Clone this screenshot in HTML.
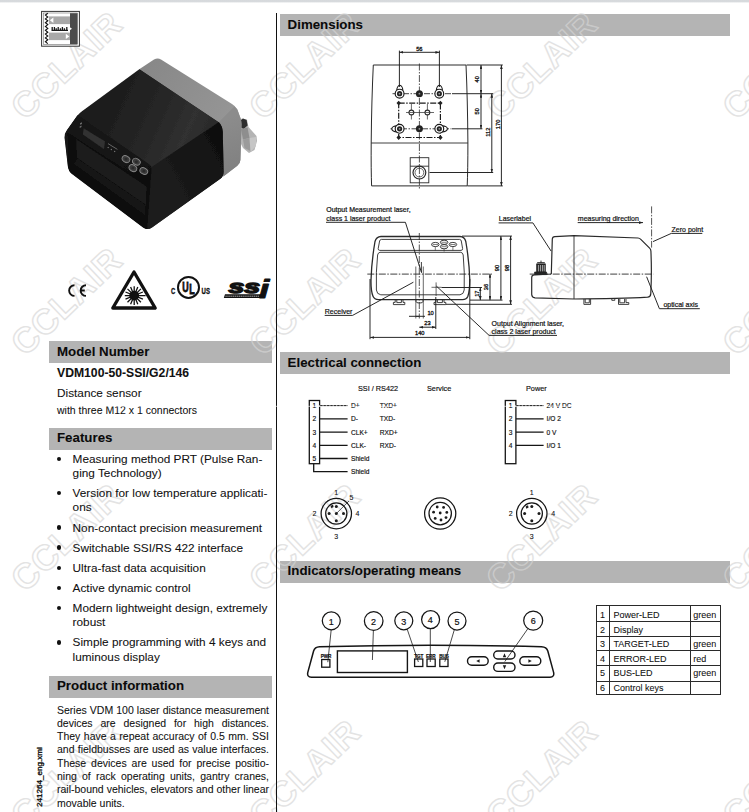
<!DOCTYPE html>
<html lang="en">
<head>
<meta charset="utf-8">
<title>VDM100-50-SSI/G2/146 Distance sensor</title>
<style>
html,body{margin:0;padding:0;background:#fff;}
body{-webkit-text-stroke:0.07px #111;width:749px;height:812px;overflow:hidden;position:relative;font-family:"Liberation Sans",sans-serif;color:#111;}
#page{position:absolute;left:0;top:0;width:749px;height:812px;overflow:hidden;background:#fff;}
.topbar{position:absolute;left:0;top:0;width:749px;height:3.4px;background:linear-gradient(#d6d9dc 0,#d7dadd 58%,#fff 100%);}
.vline{position:absolute;left:275.9px;top:13px;width:1.4px;height:800px;background:#111;}
h2{position:absolute;margin:0;padding:0 0 0 7.6px;box-sizing:border-box;height:21.7px;line-height:20.4px;font-size:13.3px;font-weight:bold;background:#b4b4b4;color:#0a0a0a;white-space:nowrap;}
.l{left:49px;width:223px;padding-left:8px;}
h2.lo{line-height:22.4px;}
.r{left:280px;width:450px;}
p,ul,li{margin:0;padding:0;}
.abs{position:absolute;white-space:nowrap;}
.model{left:57px;top:365.6px;font-size:12.2px;font-weight:bold;line-height:14px;}
.d1{left:57px;top:385.8px;font-size:11.8px;line-height:14px;}
.d2{left:57px;top:403.7px;font-size:10.5px;line-height:13px;}
ul.feat{position:absolute;left:72.6px;top:451.9px;width:200px;list-style:none;font-size:11.8px;line-height:14.15px;}
ul.feat li{position:relative;margin-bottom:6px;white-space:nowrap;}
ul.feat li::before{content:"";position:absolute;left:-15.5px;top:4.7px;width:4.4px;height:4.4px;border-radius:50%;background:#111;}
.info{position:absolute;left:57px;top:703.5px;width:212px;font-size:10.5px;line-height:13.3px;text-align:justify;}
.info span{display:block;text-align:justify;text-align-last:justify;white-space:nowrap;}
.info span.last{text-align-last:left;}
.side{position:absolute;left:35.2px;top:806.5px;font-size:8.1px;-webkit-text-stroke:0.35px #111;transform-origin:0 0;transform:rotate(-90deg);white-space:nowrap;line-height:10px;}
table.leg{position:absolute;left:595.7px;top:605.2px;border-collapse:collapse;font-size:9px;table-layout:fixed;width:125.4px;border-spacing:0;}
table.leg td{border:1px solid #2a2a2a;padding:0 0 0 2.6px;line-height:10px;vertical-align:top;box-sizing:border-box;white-space:nowrap;overflow:hidden;}
table.leg td.n{width:13.3px;padding-left:3.4px;}table.leg td.t{width:80.7px;padding-left:3.5px;}table.leg td.c{width:30.4px;padding-left:2.5px;}
svg{position:absolute;left:0;top:0;z-index:2;}
#dim text,#elec text,#ind text{stroke:#111;stroke-width:0.2px;-webkit-text-stroke:0;}
#elec text{stroke-width:0.1px;}
#elec .b text{stroke-width:0.16px;}
#elec text.h{stroke-width:0.16px;}
#dim text.n{font-size:5.7px;stroke-width:0.3px;}
svg#wm{z-index:0;}
svg#wm2{z-index:1;}
h2 span{position:relative;z-index:2;}
.abs,ul.feat,.info,.side,table.leg,.vline{z-index:2;}
</style>
</head>
<body>
<div id="page">
<div class="topbar"></div>
<svg id="wm" width="749" height="812" viewBox="0 0 749 812" font-family="'Liberation Sans',sans-serif" font-size="35" font-weight="bold" letter-spacing="0.9" fill="none" stroke="#e3e3e3" stroke-width="1.4" stroke-linejoin="round" text-anchor="middle">
<text transform="translate(65 66) rotate(-43.5)" x="1.8" y="12.5">CCLAIR</text>
<text transform="translate(303 66) rotate(-43.5)" x="1.8" y="12.5">CCLAIR</text>
<text transform="translate(540 66) rotate(-43.5)" x="1.8" y="12.5">CCLAIR</text>
<text transform="translate(776.5 66) rotate(-43.5)" x="1.8" y="12.5">CCLAIR</text>
<text transform="translate(65 302) rotate(-43.5)" x="1.8" y="12.5">CCLAIR</text>
<text transform="translate(303 302) rotate(-43.5)" x="1.8" y="12.5">CCLAIR</text>
<text transform="translate(540 302) rotate(-43.5)" x="1.8" y="12.5">CCLAIR</text>
<text transform="translate(776.5 302) rotate(-43.5)" x="1.8" y="12.5">CCLAIR</text>
<text transform="translate(65 538) rotate(-43.5)" x="1.8" y="12.5">CCLAIR</text>
<text transform="translate(303 538) rotate(-43.5)" x="1.8" y="12.5">CCLAIR</text>
<text transform="translate(540 538) rotate(-43.5)" x="1.8" y="12.5">CCLAIR</text>
<text transform="translate(776.5 538) rotate(-43.5)" x="1.8" y="12.5">CCLAIR</text>
<text transform="translate(65 774) rotate(-43.5)" x="1.8" y="12.5">CCLAIR</text>
<text transform="translate(303 774) rotate(-43.5)" x="1.8" y="12.5">CCLAIR</text>
<text transform="translate(540 774) rotate(-43.5)" x="1.8" y="12.5">CCLAIR</text>
<text transform="translate(776.5 774) rotate(-43.5)" x="1.8" y="12.5">CCLAIR</text>
</svg>
<svg id="wm2" width="749" height="812" viewBox="0 0 749 812" font-family="'Liberation Sans',sans-serif" font-size="35" font-weight="bold" letter-spacing="0.9" fill="none" stroke="#ffffff" stroke-opacity="0.3" stroke-width="1.4" stroke-linejoin="round" text-anchor="middle">
<defs><clipPath id="bars"><rect x="49" y="341" width="223" height="21.7"/><rect x="49" y="428" width="223" height="21.7"/><rect x="49" y="676" width="223" height="21.7"/><rect x="280" y="14" width="450" height="21.7"/><rect x="280" y="352" width="450" height="21.7"/><rect x="280" y="561" width="450" height="21.7"/></clipPath></defs>
<g clip-path="url(#bars)">
<text transform="translate(303 66) rotate(-43.5)" x="1.8" y="12.5">CCLAIR</text>
<text transform="translate(540 66) rotate(-43.5)" x="1.8" y="12.5">CCLAIR</text>
<text transform="translate(303 302) rotate(-43.5)" x="1.8" y="12.5">CCLAIR</text>
<text transform="translate(540 302) rotate(-43.5)" x="1.8" y="12.5">CCLAIR</text>
<text transform="translate(776.5 302) rotate(-43.5)" x="1.8" y="12.5">CCLAIR</text>
<text transform="translate(303 538) rotate(-43.5)" x="1.8" y="12.5">CCLAIR</text>
<text transform="translate(540 538) rotate(-43.5)" x="1.8" y="12.5">CCLAIR</text>
<text transform="translate(776.5 538) rotate(-43.5)" x="1.8" y="12.5">CCLAIR</text>
</g>
</svg>
<div class="vline"></div>

<h2 class="l lo" style="top:341px"><span>Model Number</span></h2>
<p class="abs model">VDM100-50-SSI/G2/146</p>
<p class="abs d1">Distance sensor</p>
<p class="abs d2">with three M12 x 1 connectors</p>

<h2 class="l" style="top:428px"><span>Features</span></h2>
<ul class="feat">
<li>Measuring method PRT (Pulse Ran-<br>ging Technology)</li>
<li>Version for low temperature applicati-<br>ons</li>
<li>Non-contact precision measurement</li>
<li>Switchable SSI/RS 422 interface</li>
<li>Ultra-fast data acquisition</li>
<li>Active dynamic control</li>
<li>Modern lightweight design, extremely<br>robust</li>
<li>Simple programming with 4 keys and<br>luminous display</li>
</ul>

<h2 class="l" style="top:676px"><span>Product information</span></h2>
<p class="info"><span>Series VDM 100 laser distance measurement</span><span>devices are designed for high distances.</span><span>They have a repeat accuracy of 0.5 mm. SSI</span><span>and fieldbusses are used as value interfaces.</span><span>These devices are used for precise positio-</span><span>ning of rack operating units, gantry cranes,</span><span>rail-bound vehicles, elevators and other linear</span><span class="last">movable units.</span></p>
<div class="side">241264_eng.xml</div>

<h2 class="r lo" style="top:14px"><span>Dimensions</span></h2>
<h2 class="r lo" style="top:352px"><span>Electrical connection</span></h2>
<h2 class="r" style="top:561px"><span>Indicators/operating means</span></h2>

<svg id="photo" width="749" height="812" viewBox="0 0 749 812" aria-label="VDM100 sensor photo">
<defs>
<filter id="soft" x="-5%" y="-5%" width="110%" height="110%"><feGaussianBlur stdDeviation="0.75"/></filter>
<linearGradient id="gtop" gradientUnits="userSpaceOnUse" x1="95" y1="100" x2="205" y2="150"><stop offset="0" stop-color="#1a1a1a"/><stop offset="0.5" stop-color="#262626"/><stop offset="0.8" stop-color="#303030"/><stop offset="1" stop-color="#2a2a2a"/></linearGradient>
<linearGradient id="gside" gradientUnits="userSpaceOnUse" x1="150" y1="190" x2="224" y2="150"><stop offset="0" stop-color="#1f1f1f"/><stop offset="1" stop-color="#101010"/></linearGradient>
<linearGradient id="gfront" gradientUnits="userSpaceOnUse" x1="100" y1="125" x2="100" y2="220"><stop offset="0" stop-color="#171717"/><stop offset="1" stop-color="#0b0b0b"/></linearGradient>
<linearGradient id="ggray" gradientUnits="userSpaceOnUse" x1="150" y1="60" x2="235" y2="120"><stop offset="0" stop-color="#888"/><stop offset="1" stop-color="#969696"/></linearGradient>
<linearGradient id="ggray2" gradientUnits="userSpaceOnUse" x1="222" y1="120" x2="242" y2="170"><stop offset="0" stop-color="#8c8c8c"/><stop offset="1" stop-color="#808080"/></linearGradient>
<clipPath id="bodyclip"><path d="M139.6 69.1 L218.9 122 Q222.5 126 222.8 132 L223.6 172 Q223.6 176.5 220 179 L152 227.5 Q147.5 230.5 143 227.5 L72 174 Q68.3 171 67.8 166 L64.6 138 Q64.2 133.5 67 130 L77 116 Q79 113.3 82 111.2 Z"/></clipPath>
</defs>
<g filter="url(#soft)">
<!-- connector -->
<path d="M238 121 L242 118.4 L247 119.5 L248.5 127 L256.5 136 L257 141 L254.5 150 L249 153 L243 148 L239 140 Z" fill="#b4b4b4"/>
<path d="M239.4 121.4 L243 118.6 L246.6 120 L247.6 125.6 L243.6 129 L240 127 Z" fill="#2e2e2e"/>
<path d="M241 129 L247.5 127.5 L249.5 138 L243 139.5 Z" fill="#8e8e8e"/>
<path d="M249.5 138 L256 137 L256 146 L251 151.5 L246 146 Z" fill="#c6c6c6"/>
<path d="M243 139.5 L249.5 138 L250.4 151 L244.5 148 Z" fill="#9b9b9b"/>
<!-- gray rear part -->
<path d="M139.6 69.1 L154 59.6 Q157.5 57.6 161 59.4 L232 104 Q235.4 106 237.4 109.6 L240.6 118.5 Q241.5 121.5 241.5 124 L240.4 160 Q240.2 163.5 237.3 165.8 L223.3 176.6 L218.9 122 Z" fill="url(#ggray)"/>
<path d="M218.9 122 L234.4 106.6 Q236.8 108.4 237.8 111 L240.6 118.5 Q241.5 121.5 241.5 124 L240.4 160 Q240.2 163.5 237.3 165.8 L223.3 176.6 Z" fill="url(#ggray2)"/>
<!-- dark body -->
<path d="M139.6 69.1 L218.9 122 Q222.5 126 222.8 132 L223.6 172 Q223.6 176.5 220 179 L152 227.5 Q147.5 230.5 143 227.5 L72 174 Q68.3 171 67.8 166 L64.6 138 Q64.2 133.5 67 130 L77 116 Q79 113.3 82 111.2 Z" fill="url(#gtop)"/>
<g clip-path="url(#bodyclip)">
<!-- right side face -->
<path d="M151.5 167 L218.9 122 Q223 126 223.3 132 L224.6 172 Q224.6 177 221 180 L152 229 Q149 230.6 146 229.5 Z" fill="url(#gside)"/>
<!-- front face -->
<path d="M77.4 114.7 L149.5 164.6 Q152 166.4 151.7 169.5 L147.2 230 L143 227.5 L72 174 Q68.3 171 67.8 166 L64.6 138 Q64.2 133.5 67 130 Z" fill="url(#gfront)"/>
<!-- recessed window -->
<path d="M67.6 132.6 L147.8 185 L146.2 225.6 L69 170.5 Z" fill="#0a0a0a"/>
<path d="M76 139 L146.6 186.5 L146 205 L77 158 Z" fill="#1c1c1c"/>
<path d="M77 158 L146 205 L145.6 216 L73.6 164 Z" fill="#131313"/>
</g>
<!-- display -->
<path d="M83.6 128.2 L105 141.2 L104 149.2 L82.8 134.6 Z" fill="#303030"/>
<!-- tiny marks -->
<g fill="#6f6f6f"><path d="M80 123.2 l1.8 -0.9 l0.2 1.6 l-1.8 0.8 Z M79.6 126.4 l1.8 -0.9 l0.2 1.6 l-1.8 0.8 Z"/><circle cx="108.2" cy="147.6" r="0.75"/><circle cx="111.4" cy="149.6" r="0.75"/><circle cx="114.6" cy="151.6" r="0.75"/><path d="M108 143.6 L117.4 149.4" stroke="#666" stroke-width="1" fill="none"/></g>
<!-- keys -->
<g fill="#3c3c3c" stroke="#8a8a8a" stroke-width="0.9">
<ellipse cx="126" cy="159.1" rx="4.1" ry="3.1" transform="rotate(30 126 159.1)"/>
<ellipse cx="136.4" cy="161.7" rx="4.1" ry="3.1" transform="rotate(30 136.4 161.7)"/>
<ellipse cx="132.9" cy="168.1" rx="4.1" ry="3.1" transform="rotate(30 132.9 168.1)"/>
<ellipse cx="143.8" cy="171" rx="4.1" ry="3.1" transform="rotate(30 143.8 171)"/>
</g>
<g fill="#2c2c2c"><circle cx="126" cy="159.1" r="1.5"/><circle cx="136.4" cy="161.7" r="1.5"/><circle cx="132.9" cy="168.1" r="1.5"/><circle cx="143.8" cy="171" r="1.5"/></g>
</g>
</svg>
<svg id="icons" width="749" height="812" viewBox="0 0 749 812">
<!-- sensor principle symbol -->
<g>
<rect x="41.6" y="11.4" width="37.8" height="34.8" fill="#fff" stroke="#333" stroke-width="1"/>
<rect x="43.3" y="13" width="34.4" height="31.6" fill="none" stroke="#555" stroke-width="0.5"/>
<rect x="70" y="13.2" width="7.4" height="31" fill="#4b4b4b"/>
<rect x="49" y="16.4" width="21" height="7.7" fill="#a9a9a9"/>
<rect x="49" y="32.6" width="21" height="7.5" fill="#a9a9a9"/>
<path d="M53.4 17.6 L53.4 22.9 L49.9 20.2 Z" fill="#fff"/>
<path d="M65.8 33.8 L65.8 39 L69.3 36.4 Z" fill="#fff"/>
<path d="M69.5 27 L72 28.7 L69.5 30.4 Z" fill="#fff"/>
<path d="M47.8 13.2 l-2.4 1.9 l2.4 1.9 l-2.4 1.9 l2.4 1.9 l-2.4 1.9 l2.4 1.9 l-2.4 1.9 l2.4 1.9 l-2.4 1.9 l2.4 1.9 l-2.4 1.9 l2.4 1.9 l-2.4 1.9 l2.4 1.9 l-2.4 1.9 l2.4 1.9" fill="none" stroke="#111" stroke-width="1.1"/>
<path d="M51.5 30.4 H68 M52.2 27 V30.4 M54.4 27 V30.4 M56.2 28.2 V30.4 M58.2 27 V30.4 M60.4 28.2 V30.4 M62.4 27 V30.4 M64.4 28.2 V30.4 M66.8 27 V30.4" stroke="#1a1a1a" stroke-width="1.3" fill="none"/>
</g>
<!-- CE -->
<g fill="none" stroke="#111" stroke-width="1.9">
<path d="M74.5 285.2 A5.35 5.35 0 1 0 74.5 295.9"/>
<path d="M86 285.2 A5.35 5.35 0 1 0 86 295.9 M80.4 290.55 H84.8"/>
</g>
<!-- laser warning -->
<g>
<path d="M134 272 L155.2 308 H112.8 Z" fill="#fff" stroke="#111" stroke-width="3.3" stroke-linejoin="round"/>
<circle cx="134.2" cy="295.6" r="4.9" fill="#111"/>
<path d="M134.2 286.2 V305 M124.8 295.6 H145.6 M127.5 288.9 L140.9 302.3 M140.9 288.9 L127.5 302.3 M130.6 286.9 L137.8 304.3 M137.8 286.9 L130.6 304.3 M125.5 292 L142.9 299.2 M142.9 292 L125.5 299.2" stroke="#111" stroke-width="1.3" fill="none"/>
</g>
<!-- UL listed -->
<g font-family="'Liberation Sans',sans-serif" font-weight="bold" fill="#111" stroke="#111">
<circle cx="188.5" cy="287.4" r="10.5" fill="#fff" stroke="#111" stroke-width="2"/>
<text transform="translate(182.2 291.5) scale(0.575 1)" font-size="15.5" stroke-width="0.9"><tspan x="0" y="0">U</tspan><tspan x="12.2" y="2.5">L</tspan></text>
<text x="171" y="293.9" font-size="8.6" stroke-width="0.3" textLength="4.3" lengthAdjust="spacingAndGlyphs">C</text>
<text x="201.6" y="293.9" font-size="8.6" stroke-width="0.3" textLength="8.4" lengthAdjust="spacingAndGlyphs">US</text>
</g>
<!-- SSI -->
<g font-family="'Liberation Sans',sans-serif" font-weight="bold" font-style="italic" fill="#111" stroke="#111">
<path d="M225 294.2 H262.5 L261.4 298.1 H223.8 Z" fill="#111" stroke="none"/>
<path d="M225.4 296.2 H259.6" stroke="#e8e8e8" stroke-width="0.7" stroke-dasharray="1.4 0.5" fill="none"/>
<text transform="translate(228.4 292.6) scale(1.615 1)" font-size="17.6" stroke-width="1.4" stroke-linejoin="round"><tspan x="0" y="0">ss</tspan><tspan x="18.9" y="5.2" font-size="26.6" stroke-width="0.9" textLength="6.4" lengthAdjust="spacingAndGlyphs">i</tspan></text>
</g>
</svg>
<svg id="dim" width="749" height="812" viewBox="0 0 749 812" font-family="'Liberation Sans',sans-serif" font-size="7" fill="#111">
<defs>
<marker id="ar" viewBox="0 0 6 4" refX="6" refY="2" markerWidth="4.2" markerHeight="2.8" orient="auto-start-reverse"><path d="M0 0 L6 2 L0 4 Z" fill="#222"/></marker>
</defs>
<!-- ===== top view ===== -->
<g fill="none" stroke="#2a2a2a" stroke-width="0.9">
<path d="M373.3 65 H466 Q467.6 100 467.9 143 Q467.9 170 467.2 185.9 H371.6 Q371 170 371.2 143 Q371.6 100 373.3 65 Z" stroke-width="1"/>
<path d="M371.2 143 H467.9"/>
<rect x="410.2" y="157.7" width="18.6" height="25.1"/>
<path d="M410.2 166.2 H428.8"/>
<circle cx="419.4" cy="172.6" r="6.4" stroke-width="1.2"/>
<circle cx="419.4" cy="172.6" r="4.4" stroke-width="0.7"/>
</g>
<g fill="none" stroke="#2a2a2a" stroke-width="0.8">
<path d="M419.4 63.5 V188.5" stroke-dasharray="7 1.5 1.5 1.5"/>
<path d="M392.5 93.7 H451.5 M390.5 128.8 H451.5" stroke-dasharray="6 1.5 1.5 1.5" stroke="#444" stroke-width="1"/>
<path d="M398.7 103.1 H440.4 V137.5 H398.7 Z" stroke-dasharray="6 1.5 1.5 1.5" stroke-width="1.2" stroke="#1a1a1a"/>
<path d="M406 112.5 H434 M411.4 104 V119.5 M427.4 104 V119.5" stroke-width="0.7"/>
<circle cx="411.4" cy="112.5" r="2.4" fill="#fff" stroke-width="1.1"/><circle cx="427.4" cy="112.5" r="2.4" fill="#fff" stroke-width="1.1"/>
<path d="M409.6 112.5 H413.2 M425.6 112.5 H429.2" stroke-width="0.7"/>
</g>
<g fill="#fff" stroke="#1a1a1a" stroke-width="1.15">
<ellipse cx="399.8" cy="90.6" rx="3" ry="5.2"/><ellipse cx="439.4" cy="90.6" rx="3" ry="5.2"/>
<ellipse cx="397" cy="128.8" rx="5.2" ry="3"/><ellipse cx="442.2" cy="128.8" rx="5.2" ry="3"/>
<circle cx="399.6" cy="93.7" r="4.4"/><circle cx="439.3" cy="93.7" r="4.4"/>
<circle cx="399.6" cy="128.8" r="4.4"/><circle cx="439.3" cy="128.8" r="4.4"/>
</g>
<g fill="#222" stroke="none">
<circle cx="399.6" cy="93.7" r="2.6"/><circle cx="439.3" cy="93.7" r="2.6"/>
<circle cx="399.6" cy="128.8" r="2.6"/><circle cx="439.3" cy="128.8" r="2.6"/>
<circle cx="419.4" cy="93.7" r="3.5"/><circle cx="419.4" cy="128.8" r="3.5"/>
<path d="M398.7 100.7 l2.2 2.4 l-2.2 2.4 l-2.2 -2.4 Z M440.4 100.7 l2.2 2.4 l-2.2 2.4 l-2.2 -2.4 Z M398.7 135.1 l2.2 2.4 l-2.2 2.4 l-2.2 -2.4 Z M440.4 135.1 l2.2 2.4 l-2.2 2.4 l-2.2 -2.4 Z"/>
</g>
<g fill="#999" stroke="none"><circle cx="399.6" cy="93.7" r="0.9"/><circle cx="439.3" cy="93.7" r="0.9"/><circle cx="399.6" cy="128.8" r="0.9"/><circle cx="439.3" cy="128.8" r="0.9"/><circle cx="419.4" cy="93.7" r="0.9"/><circle cx="419.4" cy="128.8" r="0.9"/></g>
<!-- top-view dimensions -->
<g fill="none" stroke="#1c1c1c" stroke-width="0.95">
<path d="M399.4 50.6 V87 M439.4 50.6 V87"/>
<path d="M399.4 52.3 H439.4" marker-start="url(#ar)" marker-end="url(#ar)"/>
<path d="M466.5 65 H502.8 M452 93.7 H493.2 M452 128.8 H482.4 M429.5 172.5 H493.2 M467.4 185.9 H502.8"/>
<path d="M481 65 V93.7" marker-start="url(#ar)" marker-end="url(#ar)"/>
<path d="M481 93.7 V128.8" marker-start="url(#ar)" marker-end="url(#ar)"/>
<path d="M491.8 93.7 V172.5" marker-start="url(#ar)" marker-end="url(#ar)"/>
<path d="M501.4 65 V185.9" marker-start="url(#ar)" marker-end="url(#ar)"/>
</g>
<text class="n" x="419.3" y="50.6" text-anchor="middle">56</text>
<text class="n" transform="translate(479.2 79.3) rotate(-90)" text-anchor="middle">40</text>
<text class="n" transform="translate(479.2 111.3) rotate(-90)" text-anchor="middle">50</text>
<text class="n" transform="translate(490 132.2) rotate(-90)" text-anchor="middle">112</text>
<text class="n" transform="translate(499.6 124.4) rotate(-90)" text-anchor="middle">170</text>

<!-- ===== front view ===== -->
<g fill="none" stroke="#2a2a2a" stroke-width="0.9">
<path d="M381 236.5 H460 Q464.6 236.6 465.8 241.5 Q469.3 262 469.8 280 Q469.7 291 467.9 296.3 Q466.6 299.6 462.5 299.6 H378.4 Q374.4 299.6 373 296.3 Q370.8 291 371 280 Q371.5 262 375 241.5 Q376.3 236.6 381 236.5 Z" stroke-width="1.3"/>
<path d="M381.4 239.4 H459.6 Q461 239.5 461.3 241 L462.6 248.6 Q462.8 250.3 461 250.4 H379.8 Q378 250.3 378.2 248.6 L379.6 241 Q380 239.5 381.4 239.4 Z"/>
<path d="M380 252.3 H460.8 Q462.8 252.6 463.2 255 Q464.8 272 464.2 290 Q463.8 294.3 460 294.8 H380.8 Q376.8 294.3 376.4 290 Q375.8 272 377.6 255 Q378 252.6 380 252.3 Z"/>
<ellipse cx="435.3" cy="244.5" rx="3.8" ry="2.1"/><ellipse cx="444.1" cy="242.3" rx="3.8" ry="2.1"/><ellipse cx="444.1" cy="246.7" rx="3.8" ry="2.1"/><ellipse cx="452.9" cy="244.5" rx="3.8" ry="2.1"/>
<path d="M432.6 244.5 H438 M441.4 242.3 H446.8 M441.4 246.7 H446.8 M450.2 244.5 H455.6 M435.3 246.6 V250.4 M444.1 248.8 V251.6 M452.9 246.6 V250.4" stroke-width="0.6"/>
<path d="M395.2 299.6 V302.4 H393.4 V304.6 H404.8 V302.4 H403 V299.6 M396.8 299.6 V302.6 H401.4 V299.6 M435.8 299.6 V302.4 H434 V304.6 H445.8 V302.4 H444 V299.6 M437.4 299.6 V302.6 H442.4 V299.6 M416 299.6 V301.4 Q416.4 302.8 418 302.9 H421 Q422.6 302.8 423 301.4 V299.6"/>
<path d="M415.8 266.5 V318.5 M423.3 266.5 V318.5" stroke-width="0.7"/>
<path d="M421.4 262 V272" stroke-width="0.9"/>
<path d="M436.1 282.4 V296 M431.5 287.3 H441.5" stroke-width="0.7"/>
</g>
<g fill="none" stroke="#2a2a2a" stroke-width="0.8">
<path d="M367.3 274.1 H492" stroke-dasharray="7 1.5 1.5 1.5" stroke-width="0.9"/>
<path d="M419.3 233 V318.5" stroke-dasharray="7 1.5 1.5 1.5"/>
</g>
<g fill="none" stroke="#1c1c1c" stroke-width="0.95">
<path d="M370 279 V339.2 M469.8 279 V339.2 M435.8 297 V329"/>
<path d="M370.2 337.4 H469.5" marker-start="url(#ar)" marker-end="url(#ar)"/>
<path d="M419.3 327.2 H435.8" marker-start="url(#ar)" marker-end="url(#ar)"/>
<path d="M409 316.3 H415.2 M419.3 316.3 H425" />
<path d="M415.2 316.3 H419.3" stroke-width="1.2"/>
<path d="M462 236.1 H512 M470 300.1 H502.5 M446 304.3 H512 M441.5 287.5 H482"/>
<path d="M500.9 236.1 V300.1" marker-start="url(#ar)" marker-end="url(#ar)"/>
<path d="M510.6 236.1 V304.3" marker-start="url(#ar)" marker-end="url(#ar)"/>
<path d="M490 273.7 V300.1" marker-start="url(#ar)" marker-end="url(#ar)"/>
<path d="M480.3 287.5 V300.1" marker-start="url(#ar)" marker-end="url(#ar)"/>
<!-- leaders -->
<path d="M326 222.3 H405.4 L421.6 272.8"/>
<path d="M324.7 315.4 H352.6 L413.4 282.2"/>
<path d="M436.3 286 L489.1 335.4 H557"/>
</g>
<text class="n" x="419.8" y="335" text-anchor="middle">140</text>
<text class="n" x="427.5" y="325" text-anchor="middle">23</text>
<text class="n" x="430.6" y="314.8" text-anchor="middle">10</text>
<text class="n" transform="translate(499.1 268) rotate(-90)" text-anchor="middle">90</text>
<text class="n" transform="translate(508.8 268) rotate(-90)" text-anchor="middle">98</text>
<text class="n" transform="translate(488.3 287) rotate(-90)" text-anchor="middle">36</text>
<text class="n" transform="translate(478.6 293.7) rotate(-90)" text-anchor="middle">17</text>
<text x="326.2" y="212.2">Output Measurement laser,</text>
<text x="326.2" y="220.6">class 1 laser product</text>
<text x="324.8" y="313.8">Receiver</text>
<text x="491.6" y="325.6">Output Alignment laser,</text>
<text x="491.6" y="334">class 2 laser product</text>

<!-- ===== side view ===== -->
<g fill="none" stroke="#2a2a2a" stroke-width="0.9">
<path d="M551.3 274 L552.3 239 Q552.5 236.8 554.8 236.6 L574 235.7 L638 238 Q639.6 238.1 640.8 239.3 L649.6 248.2 Q650.8 249.4 650.9 251 Q651.9 272 650.8 293.6 Q650.6 296.8 647.6 297.2 Q620 298.8 574 299 L535 297.8 Q531.8 297.4 531.7 294.4 V277.4 Q531.8 274.9 534.4 274.8 L551.3 274" stroke-width="1.2"/>
<path d="M574 235.7 V299"/>
<path d="M583.9 299 V304.4 H590.6 V299 M585.2 299 V302.8 H589.3 V299 M618.5 299 V304.4 H628.8 V302.6 H626 V299 M619.8 299 V302.8 H624.6 V299 M611.8 299 V300.3 H614.8 V299"/>
</g>
<g fill="#222" stroke="#222" stroke-width="0.7">
<path d="M536.6 263.8 H545.4 V272.6 H536.6 Z"/>
<path d="M534.6 272 H546.6 V274.6 H534.6 Z"/>
</g>
<path d="M538.4 265 V271.4 M540.4 265 V271.4 M542.4 265 V271.4 M544.2 265 V271.4" stroke="#e4e4e4" stroke-width="0.7" fill="none"/>
<path d="M537.2 262.6 H544.8 M541 260.6 V263" stroke="#222" stroke-width="0.9" fill="none"/>
<g fill="none" stroke="#2a2a2a" stroke-width="0.8">
<path d="M529.7 274.1 H653.4" stroke-dasharray="7 1.5 1.5 1.5" stroke-width="0.9"/>
<path d="M651.6 206.4 V247.6" stroke-dasharray="7 1.5 1.5 1.5"/>
</g>
<g fill="none" stroke="#1c1c1c" stroke-width="0.95">
<path d="M498.6 222.9 H532.9 L551.1 251.1"/>
<path d="M577.7 222.6 H643" marker-end="url(#ar)"/>
<path d="M702.3 233.4 H671.3 L653 241.6"/>
<path d="M699.8 308.7 H659.4 L646.6 276.7"/>
</g>
<text x="498.8" y="220.8">Laserlabel</text>
<text x="577.8" y="220.8">measuring direction</text>
<text x="671.6" y="231.6">Zero point</text>
<text x="663.4" y="307">optical axis</text>
</svg>
<svg id="elec" width="749" height="812" viewBox="0 0 749 812" font-family="'Liberation Sans',sans-serif" font-size="7" fill="#111">
<text class="h" x="358" y="391.4" font-size="7.3">SSI / RS422</text>
<text class="h" x="427" y="391.4" font-size="7.3">Service</text>
<text class="h" x="526" y="391.4" font-size="7.3">Power</text>
<g fill="none" stroke="#151515" stroke-width="1.3">
<rect x="309.3" y="400.5" width="10.3" height="63.2"/>
<path d="M319.6 405.6 H347.6 M319.6 418.8 H347.6 M319.6 432.1 H347.6 M319.6 445.3 H347.6 M319.6 458.5 H347.6 M313.7 463.7 V471.7 H347.6"/>
<rect x="505.3" y="400.5" width="10.6" height="63.2"/>
<path d="M515.9 405.6 H543.6 M515.9 418.8 H543.6 M515.9 432.1 H543.6 M515.9 445.3 H543.6"/>
</g>
<g font-size="6.6" class="b">
<g text-anchor="middle">
<text x="314.4" y="408.2">1</text><text x="314.4" y="421.3">2</text><text x="314.4" y="434.6">3</text><text x="314.4" y="447.8">4</text><text x="314.4" y="460.6">5</text>
<text x="510.6" y="408.2">1</text><text x="510.6" y="421.3">2</text><text x="510.6" y="434.6">3</text><text x="510.6" y="447.8">4</text>
</g>
<text x="351" y="408.2">D+</text><text x="351" y="421.3">D-</text><text x="351" y="434.6">CLK+</text><text x="351" y="447.8">CLK-</text><text x="351" y="461">Shield</text><text x="351" y="474.2">Shield</text>
<text x="379.8" y="408.2">TXD+</text><text x="379.8" y="421.3">TXD-</text><text x="379.8" y="434.6">RXD+</text><text x="379.8" y="447.8">RXD-</text>
<text x="546.6" y="408.2">24 V DC</text><text x="546.6" y="421.3">I/O 2</text><text x="546.6" y="434.6">0 V</text><text x="546.6" y="447.8">I/O 1</text>
</g>
<!-- scan seam -->
<rect x="0" y="405.85" width="749" height="0.8" fill="#fff" opacity="0.8"/>
<path d="M319 406 H348 M515 406 H544" stroke="#fff" stroke-width="1.1" stroke-dasharray="1.3 2.1" fill="none"/>
<!-- connectors -->
<g fill="none" stroke="#151515" stroke-width="1.25">
<circle cx="336.3" cy="513.6" r="15.2"/><circle cx="336.3" cy="513.6" r="10.6"/>
<circle cx="440.2" cy="513.6" r="15.6"/><circle cx="440.2" cy="513.6" r="11.2"/>
<circle cx="531.8" cy="513.6" r="15.2"/><circle cx="531.8" cy="513.6" r="10.6"/>
<path d="M349 501 L336.3 513.6" stroke-width="0.7"/>
</g>
<g fill="#1c1c1c">
<circle cx="336.3" cy="506.4" r="1.5"/><circle cx="329.1" cy="513.6" r="1.5"/><circle cx="336.3" cy="520.8" r="1.5"/><circle cx="343.5" cy="513.6" r="1.5"/><circle cx="336.3" cy="513.6" r="1.5"/>
<path d="M330.6 506 L333 504.6 L333.6 507 L331.4 508.2 Z"/>
<circle cx="437.2" cy="507" r="1.4"/><circle cx="443.6" cy="507.4" r="1.4"/><circle cx="433.6" cy="512.2" r="1.4"/><circle cx="440.2" cy="513" r="1.4"/><circle cx="446.8" cy="512.4" r="1.4"/><circle cx="435.2" cy="518.4" r="1.4"/><circle cx="441" cy="520" r="1.4"/><circle cx="446" cy="517.6" r="1.4"/>
<circle cx="531.8" cy="506.4" r="1.5"/><circle cx="524.6" cy="513.6" r="1.5"/><circle cx="531.8" cy="520.8" r="1.5"/><circle cx="539" cy="513.6" r="1.5"/>
<path d="M525.6 506.6 L528 505.2 L528.6 507.6 L526.4 508.8 Z"/>
</g>
<g text-anchor="middle">
<text x="336.3" y="494.6">1</text><text x="314.4" y="516.2">2</text><text x="336.3" y="538.6">3</text><text x="357.4" y="516.2">4</text><text x="351.4" y="500.4">5</text>
<text x="531.8" y="494.6">1</text><text x="510.6" y="516.2">2</text><text x="531.8" y="538.6">3</text><text x="553.2" y="516.2">4</text>
</g>
</svg>
<svg id="ind" width="749" height="812" viewBox="0 0 749 812" font-family="'Liberation Sans',sans-serif" font-size="9" fill="#111">
<g fill="none" stroke="#151515" stroke-width="1.3">
<path d="M319.5 646.7 Q430 643.6 541.5 646.7 Q546.6 646.9 547.8 651 L553.6 672.4 Q554.6 677 550 677.3 H311.4 Q306.8 677 307.8 672.4 L313.6 651 Q314.8 646.9 319.5 646.7 Z" stroke-width="1.5"/>
<rect x="337.4" y="650.9" width="70" height="21.6" stroke-width="1.4"/>
<rect x="321.7" y="659.5" width="8.2" height="7.7"/>
<rect x="414.6" y="659" width="8.2" height="7.5"/><rect x="427" y="659" width="8.2" height="7.5"/><rect x="439.8" y="659" width="8.2" height="7.5"/>
<rect x="467.5" y="656.7" width="20.7" height="8.6" rx="4.3" stroke-width="1.4"/>
<rect x="519.8" y="656.7" width="21" height="8.6" rx="4.3" stroke-width="1.4"/>
<rect x="493.7" y="651" width="21.3" height="8" rx="4" stroke-width="1.4"/>
<rect x="493.7" y="663" width="21.3" height="8.4" rx="4.2" stroke-width="1.4"/>
</g>
<g fill="#1c1c1c">
<path d="M479.6 659.2 V662.8 L476.2 661 Z M528.4 659.2 V662.8 L531.8 661 Z M502.8 657.2 H506.2 L504.5 653.2 Z M502.8 665.2 H506.2 L504.5 669.2 Z"/>
</g>
<g fill="#fff" stroke="#151515" stroke-width="1.25">
<circle cx="331.3" cy="620.8" r="9"/><circle cx="373.7" cy="621" r="9.3"/><circle cx="403.8" cy="620.8" r="9"/><circle cx="430.6" cy="619.6" r="9"/><circle cx="457" cy="621" r="9"/><circle cx="533.2" cy="620.6" r="9.5"/>
</g>
<g fill="none" stroke="#1c1c1c" stroke-width="0.8">
<path d="M331.2 629.7 L327.8 662.2 M373.4 630 L372.4 660 M407.2 629.2 L418.4 662 M430.3 628 V662 M454.4 629.5 L444.8 661.8 M528.2 628.2 L504.8 661.6"/>
</g>
<g text-anchor="middle">
<text x="331.3" y="624.6">1</text><text x="373.5" y="624.6">2</text><text x="403.8" y="624.6">3</text><text x="430.3" y="622.8">4</text><text x="456.9" y="624.6">5</text><text x="533.2" y="623.9">6</text>
</g>
<g font-size="4.6" font-weight="bold" text-anchor="middle">
<text x="326" y="658.2">PWR</text><text x="418.8" y="657.6">TGT</text><text x="430.8" y="657.6">ERR</text><text x="444" y="657.6">BUS</text>
</g>
</svg>
<table class="leg">
<tr style="height:16px"><td class="n" style="padding-top:4px">1</td><td class="t" style="padding-top:4px">Power-LED</td><td class="c" style="padding-top:4px">green</td></tr>
<tr style="height:14.5px"><td class="n" style="padding-top:3px">2</td><td class="t" style="padding-top:3px">Display</td><td class="c"></td></tr>
<tr style="height:14.3px"><td class="n" style="padding-top:2.4px">3</td><td class="t" style="padding-top:2.4px">TARGET-LED</td><td class="c" style="padding-top:2.4px">green</td></tr>
<tr style="height:14.6px"><td class="n" style="padding-top:2.8px">4</td><td class="t" style="padding-top:2.8px">ERROR-LED</td><td class="c" style="padding-top:2.8px">red</td></tr>
<tr style="height:16px"><td class="n" style="padding-top:2.4px">5</td><td class="t" style="padding-top:2.4px">BUS-LED</td><td class="c" style="padding-top:2.4px">green</td></tr>
<tr style="height:13.2px"><td class="n" style="padding-top:1.2px">6</td><td class="t" style="padding-top:1.2px">Control keys</td><td class="c"></td></tr>
</table>
</div>
</body>
</html>
